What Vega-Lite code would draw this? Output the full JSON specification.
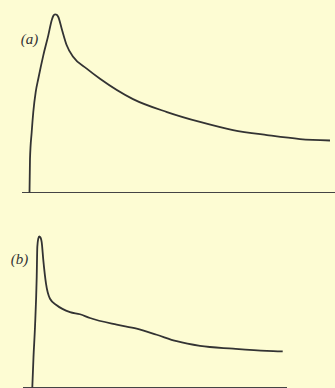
{
  "$schema": "https://vega.github.io/schema/vega-lite/v6.json",
  "background": "#fdfcd3",
  "padding": {"left": 8, "top": 10.5, "right": 0, "bottom": 0},
  "bounds": "flush",
  "spacing": 15,
  "config": {"view": {"stroke": null}},
  "datasets": {
    "curveA": [
      {"t": 7.17, "v": 0}, {"t": 7.33, "v": 18.6}, {"t": 7.9, "v": 33.6}, {"t": 8.43, "v": 44.7},
      {"t": 9.23, "v": 55.8}, {"t": 10.1, "v": 63.2}, {"t": 11.77, "v": 76.2}, {"t": 13.43, "v": 87.3},
      {"t": 14.57, "v": 95.7}, {"t": 15.17, "v": 98.3}, {"t": 15.67, "v": 99.0}, {"t": 16.23, "v": 98.7},
      {"t": 16.77, "v": 97.5}, {"t": 17.9, "v": 91.0}, {"t": 19.57, "v": 81.8}, {"t": 21.77, "v": 75.3},
      {"t": 26.23, "v": 68.8}, {"t": 30.67, "v": 63.2}, {"t": 41.67, "v": 51.9}, {"t": 53, "v": 44.7},
      {"t": 64, "v": 39.2}, {"t": 75, "v": 34.7}, {"t": 86.33, "v": 31.9}, {"t": 97.33, "v": 29.7},
      {"t": 107.33, "v": 28.9}
    ],
    "curveB": [
      {"t": 8.1, "v": 0}, {"t": 8.5, "v": 16.9}, {"t": 9, "v": 33.6}, {"t": 9.57, "v": 61.4},
      {"t": 9.77, "v": 78.1}, {"t": 10.07, "v": 82.5}, {"t": 10.43, "v": 83.9}, {"t": 10.83, "v": 83.3},
      {"t": 11.23, "v": 80.8}, {"t": 11.77, "v": 70.8}, {"t": 12.67, "v": 57.7}, {"t": 14, "v": 49.3},
      {"t": 16.23, "v": 45.7}, {"t": 20.67, "v": 41.9}, {"t": 24, "v": 40.7}, {"t": 27.33, "v": 38.6},
      {"t": 36.23, "v": 34.9}, {"t": 42.9, "v": 32.7}, {"t": 49.57, "v": 29.3}, {"t": 56.23, "v": 25.7},
      {"t": 64, "v": 23.1}, {"t": 75, "v": 21.6}, {"t": 86.23, "v": 20.4}, {"t": 91.57, "v": 20.1}
    ],
    "baseA": [{"t0": 4.67, "t1": 109, "v": 0}],
    "baseB": [{"t0": 5, "t1": 93, "v": 0}],
    "labelA": [{"t": 7.17, "v": 85.3, "label": "(a)"}],
    "labelB": [{"t": 3.83, "v": 71.4, "label": "(b)"}]
  },
  "vconcat": [
    {
      "width": 327,
      "height": 180,
      "layer": [
        {
          "data": {"name": "baseA"},
          "mark": {"type": "rule", "color": "#444444", "strokeWidth": 1.2},
          "encoding": {
            "x": {"field": "t0", "type": "quantitative", "scale": {"domain": [0, 109], "nice": false, "zero": false}, "axis": null},
            "x2": {"field": "t1"},
            "y": {"field": "v", "type": "quantitative", "scale": {"domain": [0, 100], "nice": false}, "axis": null}
          }
        },
        {
          "data": {"name": "curveA"},
          "mark": {"type": "line", "color": "#333333", "strokeWidth": 1.8, "interpolate": "monotone"},
          "encoding": {
            "x": {"field": "t", "type": "quantitative", "scale": {"domain": [0, 109], "nice": false, "zero": false}, "axis": null},
            "y": {"field": "v", "type": "quantitative", "scale": {"domain": [0, 100], "nice": false}, "axis": null}
          }
        },
        {
          "data": {"name": "labelA"},
          "mark": {"type": "text", "font": "Liberation Serif", "fontStyle": "italic", "fontSize": 15, "color": "#333333", "align": "center", "baseline": "middle"},
          "encoding": {
            "x": {"field": "t", "type": "quantitative", "scale": {"domain": [0, 109], "nice": false, "zero": false}, "axis": null},
            "y": {"field": "v", "type": "quantitative", "scale": {"domain": [0, 100], "nice": false}, "axis": null},
            "text": {"field": "label"}
          }
        }
      ]
    },
    {
      "width": 327,
      "height": 180,
      "layer": [
        {
          "data": {"name": "baseB"},
          "mark": {"type": "rule", "color": "#444444", "strokeWidth": 1.2},
          "encoding": {
            "x": {"field": "t0", "type": "quantitative", "scale": {"domain": [0, 109], "nice": false, "zero": false}, "axis": null},
            "x2": {"field": "t1"},
            "y": {"field": "v", "type": "quantitative", "scale": {"domain": [0, 100], "nice": false}, "axis": null}
          }
        },
        {
          "data": {"name": "curveB"},
          "mark": {"type": "line", "color": "#333333", "strokeWidth": 1.8, "interpolate": "monotone"},
          "encoding": {
            "x": {"field": "t", "type": "quantitative", "scale": {"domain": [0, 109], "nice": false, "zero": false}, "axis": null},
            "y": {"field": "v", "type": "quantitative", "scale": {"domain": [0, 100], "nice": false}, "axis": null}
          }
        },
        {
          "data": {"name": "labelB"},
          "mark": {"type": "text", "font": "Liberation Serif", "fontStyle": "italic", "fontSize": 15, "color": "#333333", "align": "center", "baseline": "middle"},
          "encoding": {
            "x": {"field": "t", "type": "quantitative", "scale": {"domain": [0, 109], "nice": false, "zero": false}, "axis": null},
            "y": {"field": "v", "type": "quantitative", "scale": {"domain": [0, 100], "nice": false}, "axis": null},
            "text": {"field": "label"}
          }
        }
      ]
    }
  ]
}
